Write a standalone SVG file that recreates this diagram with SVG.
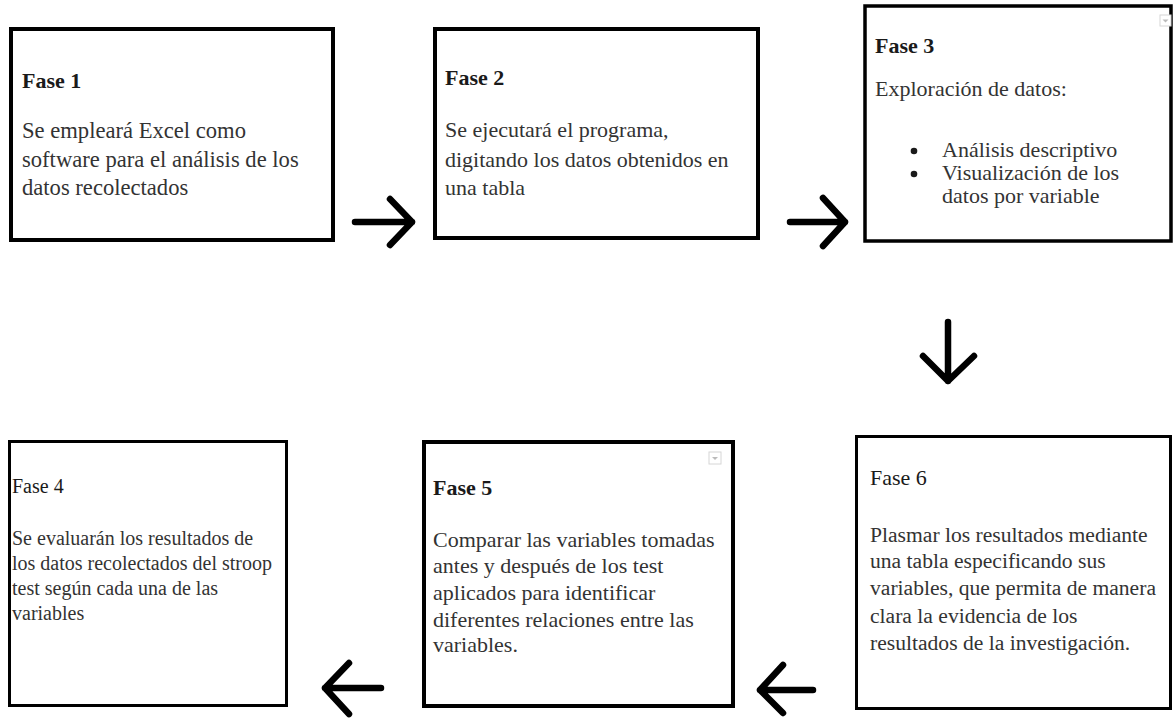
<svg xmlns="http://www.w3.org/2000/svg" width="1175" height="719" viewBox="0 0 1175 719">
<style>
.box{fill:#fff;stroke:#000}
.t{font-family:"Liberation Serif","Times New Roman",serif;font-size:22px;fill:#333}
.h{font-family:"Liberation Serif","Times New Roman",serif;font-size:22px;fill:#1a1a1a}
.b{font-weight:bold}
.arr{fill:none;stroke:#000;stroke-width:6.5;stroke-linecap:round;stroke-linejoin:round}
.dd{fill:#fff;stroke:#d6d6d6;stroke-width:1}
.ddt{fill:#bbb}
</style>
<rect width="1175" height="719" fill="#fff"/>
<g id="fase1">
<rect class="box" x="11" y="29" width="322" height="211" stroke-width="4"/>
<text class="h b" x="22" y="88">Fase 1</text>
<text class="t" x="22" y="138" style="font-size:22.6px">Se empleará Excel como</text>
<text class="t" x="22" y="167" style="font-size:22.6px">software para el análisis de los</text>
<text class="t" x="22" y="195" style="font-size:22.6px">datos recolectados</text>
</g>
<g id="fase2">
<rect class="box" x="435" y="29" width="323" height="209" stroke-width="4"/>
<text class="h b" x="445" y="85">Fase 2</text>
<text class="t" x="445" y="137">Se ejecutará el programa,</text>
<text class="t" x="445" y="167">digitando los datos obtenidos en</text>
<text class="t" x="445" y="195">una tabla</text>
</g>
<g id="fase3">
<rect class="box" x="865" y="6" width="306" height="235" stroke-width="3.5"/>
<rect class="dd" x="1160" y="15" width="11" height="11"/>
<path class="ddt" d="M1162.5 19.5h6l-3 3z"/>
<text class="h b" x="875" y="53">Fase 3</text>
<text class="t" x="875" y="96">Exploración de datos:</text>
<circle cx="914" cy="151" r="3.3" fill="#1a1a1a"/>
<circle cx="914" cy="174" r="3.3" fill="#1a1a1a"/>
<text class="t" x="942" y="157">Análisis descriptivo</text>
<text class="t" x="942" y="180">Visualización de los</text>
<text class="t" x="942" y="203">datos por variable</text>
</g>
<g id="fase4">
<rect class="box" x="9.5" y="441.5" width="277" height="264" stroke-width="3"/>
<text class="h" x="12" y="493" style="font-size:20px">Fase 4</text>
<text class="t" x="12" y="545" style="font-size:20px">Se evaluarán los resultados de</text>
<text class="t" x="12" y="570" style="font-size:20px">los datos recolectados del stroop</text>
<text class="t" x="12" y="595" style="font-size:20px">test según cada una de las</text>
<text class="t" x="12" y="620" style="font-size:20px">variables</text>
</g>
<g id="fase5">
<rect class="box" x="424" y="442" width="309" height="264" stroke-width="4"/>
<rect class="dd" x="709" y="452" width="12" height="12"/>
<path class="ddt" d="M712 457h6l-3 3z"/>
<text class="h b" x="433" y="495">Fase 5</text>
<text class="t" x="433" y="547">Comparar las variables tomadas</text>
<text class="t" x="433" y="573">antes y después de los test</text>
<text class="t" x="433" y="600">aplicados para identificar</text>
<text class="t" x="433" y="627">diferentes relaciones entre las</text>
<text class="t" x="433" y="652">variables.</text>
</g>
<g id="fase6">
<rect class="box" x="856.5" y="436.5" width="314" height="272" stroke-width="3"/>
<text class="h" x="870" y="485">Fase 6</text>
<text class="t" x="870" y="542" style="font-size:21.6px">Plasmar los resultados mediante</text>
<text class="t" x="870" y="568" style="font-size:21.6px">una tabla especificando sus</text>
<text class="t" x="870" y="595" style="font-size:21.6px">variables, que permita de manera</text>
<text class="t" x="870" y="623" style="font-size:21.6px">clara la evidencia de los</text>
<text class="t" x="870" y="650" style="font-size:21.6px">resultados de la investigación.</text>
</g>
<g id="connectors">
<path class="arr" d="M355 222H412M390 199L412 222L390 245"/>
<path class="arr" d="M790 222H845M823 198L845 222L823 246"/>
<path class="arr" d="M948 322V381M923 356L948 381L974 356"/>
<path class="arr" d="M381 688H325M349 663L325 688L349 714"/>
<path class="arr" d="M813 690H760M783 665L760 690L783 713"/>
</g>
</svg>
